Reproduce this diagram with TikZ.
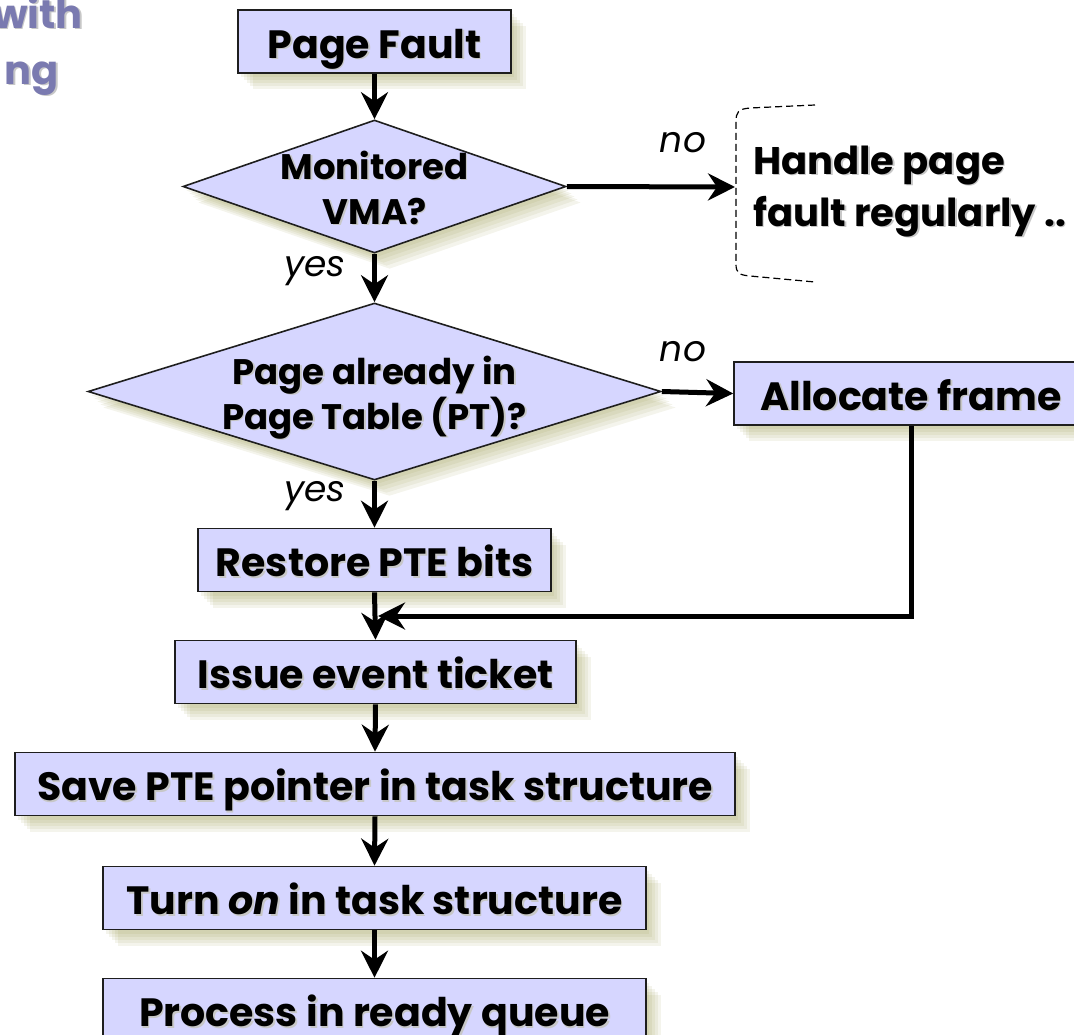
\documentclass[tikz,border=0pt]{standalone}
\usepackage{fontspec}
\setmainfont{Poppins}
\usetikzlibrary{shapes.geometric, arrows.meta, shadows}

\definecolor{boxfill}{RGB}{214,214,255}
\definecolor{boxline}{RGB}{30,30,30}
\definecolor{titlecol}{RGB}{122,122,176}
\definecolor{shadecol}{RGB}{130,130,40}

% text with a soft grey drop shadow
\newcommand{\shtxt}[1]{\rlap{\kern1.6pt\raisebox{-1.6pt}{\textcolor{black!22}{#1}}}#1}

\tikzset{
  % one translucent layer of a soft olive drop shadow, offset by #1
  shlayer/.style={general shadow={shadow xshift=#1, shadow yshift=-#1-1pt,
      fill=shadecol, fill opacity=0.085}},
  softshadow/.style={shlayer=15pt, shlayer=12pt, shlayer=9pt,
      shlayer=6pt, shlayer=3pt},
  stepbox/.style={draw=boxline, line width=1.6pt, fill=boxfill, inner sep=0pt,
      minimum height=63, text height=33pt, text depth=0pt,
      font=\fontsize{39.5}{44}\selectfont\bfseries, softshadow},
  decision/.style={diamond, draw=boxline, line width=1.6pt, fill=boxfill,
      inner sep=0pt, softshadow},
  dtext/.style={anchor=base, inner sep=0pt,
      font=\fontsize{35.5}{40}\selectfont\bfseries},
  sidetext/.style={anchor=base west, inner sep=0pt,
      font=\fontsize{38.5}{44}\selectfont\bfseries},
  branch/.style={inner sep=0pt, font=\fontsize{36}{40}\selectfont\itshape},
  conn/.style={line width=5pt,
      -{Stealth[length=27pt, width=27pt, inset=9pt]}},
  titletext/.style={inner sep=0pt, text=titlecol,
      font=\fontsize{40}{44}\selectfont\bfseries},
}

\begin{document}
\begin{tikzpicture}[x=1pt, y=-1pt]
  \useasboundingbox (0,0) rectangle (1074,1034);
  \clip (0,0) rectangle (1074,1034);

  % heading fragments
  \node[titletext, anchor=base east] (h1) at (83,28) {\shtxt{with}};
  \node[titletext, anchor=base east] (h2) at (59,84) {\shtxt{ng}};

  % flow steps
  \node[stepbox, minimum width=273] (pf) at (374.5,41.5) {\shtxt{Page Fault}};
  \node[decision, minimum width=383, minimum height=133] (d1) at (374.5,186.5) {};
  \node[dtext] (d1a) at (374.5,179) {\shtxt{Monitored}};
  \node[dtext] (d1b) at (374.5,224) {\shtxt{VMA?}};
  \node[decision, minimum width=573, minimum height=177] (d2) at (374.5,391.5) {};
  \node[dtext] (d2a) at (374.5,384) {\shtxt{Page already in}};
  \node[dtext] (d2b) at (374.5,429) {\shtxt{Page Table (PT)?}};
  \node[stepbox, minimum width=354] (af) at (911,393.5) {\shtxt{Allocate frame}};
  \node[stepbox, minimum width=353] (rp) at (374.5,560) {\shtxt{Restore PTE bits}};
  \node[stepbox, minimum width=401] (ie) at (375.5,672) {\shtxt{Issue event ticket}};
  \node[stepbox, minimum width=720] (sp) at (375,784) {\shtxt{Save PTE pointer in task structure}};
  \node[stepbox, minimum width=543] (to) at (374.5,898) {\shtxt{Turn \textit{on} in task structure}};
  \node[stepbox, minimum width=543] (pr) at (374.5,1010) {\shtxt{Process in ready queue}};

  % regular handling, set off by a dashed bracket
  \draw[line width=1.2pt, dash pattern=on 7pt off 4pt]
    (815,105) -- (750,108) .. controls (738,109) and (736,112) .. (736,122)
    -- (736,264) .. controls (736,273) and (739,275) .. (750,276) -- (815,282);
  \coordinate (br) at (735,187);
  \node[sidetext] (hr1) at (753,174) {\shtxt{Handle page}};
  \node[sidetext] (hr2) at (753,226) {\shtxt{fault regularly ..}};

  % branch labels
  \node[branch] (no1) at (683,143) {no};
  \node[branch] (no2) at (683,352) {no};
  \node[branch] (yes1) at (315,271) {yes};
  \node[branch] (yes2) at (315,496) {yes};

  % connectors
  \coordinate (mj) at (378,616);
  \coordinate (ac) at (911,616);
  \draw[conn] (pf.south) -- (d1.north);
  \draw[conn] (d1.east) -- (br);
  \draw[conn] (d1.south) -- (d2.north);
  \draw[conn] (d2.east) -- (af.west);
  \draw[conn] (d2.south) -- (rp.north);
  \draw[conn] (rp.south) -- (ie.north);
  \draw[conn] (af.south) -- (ac) -- (mj);
  \draw[conn] (ie.south) -- (sp.north);
  \draw[conn] (sp.south) -- (to.north);
  \draw[conn] (to.south) -- (pr.north);
\end{tikzpicture}
\end{document}
